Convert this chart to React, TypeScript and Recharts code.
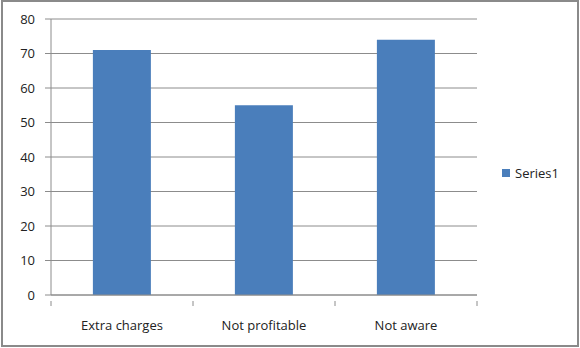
import React from "react";
import { BarChart, Bar, XAxis, YAxis, CartesianGrid, Legend } from "recharts";

const categories = ["Extra charges", "Not profitable", "Not aware"];
const series1 = [71, 55, 74];
const yTicks = [0, 10, 20, 30, 40, 50, 60, 70, 80];

const data = categories.map((name, i) => ({ name, Series1: series1[i] }));

const FONT = "'Open Sans', 'Liberation Sans', sans-serif";
const BLUE = "#4a7ebb";
const GRID = "#8c8c8c";

// category labels plus the tick marks that sit between the bands
const CategoryTick = (props: any) => {
  const { x, y, payload, index } = props;
  const half = payload.offset || 0;
  const axisY = y - 20;
  return (
    <g>
      <line x1={x - half} x2={x - half} y1={axisY} y2={axisY + 5} stroke={GRID} />
      {index === categories.length - 1 && (
        <line x1={x + half} x2={x + half} y1={axisY} y2={axisY + 5} stroke={GRID} />
      )}
      <text x={x} y={y + 9} textAnchor="middle" fontSize={13} fill="#222" fontFamily={FONT}>
        {payload.value}
      </text>
    </g>
  );
};

const LegendContent = () => (
  <div style={{ display: "flex", alignItems: "center", fontFamily: FONT, fontSize: 13, color: "#222" }}>
    <span style={{ display: "inline-block", width: 8, height: 8, background: BLUE, marginRight: 5 }} />
    <span>Series1</span>
  </div>
);

export default function App() {
  return (
    <div style={{ position: "absolute", left: 0, top: 0, width: 580, height: 348, background: "#fff" }}>
      <div
        style={{
          position: "absolute",
          left: 1,
          top: 0,
          width: 578,
          height: 347,
          boxSizing: "border-box",
          border: "2px solid #8a8a8a",
        }}
      />
      <BarChart
        width={580}
        height={348}
        data={data}
        margin={{ top: 19, right: 23, left: 0, bottom: 23 }}
        barCategoryGap="29.5%"
        style={{ position: "absolute", left: 0, top: 0 }}
      >
        <CartesianGrid vertical={false} stroke={GRID} />
        <XAxis
          dataKey="name"
          tickLine={false}
          axisLine={{ stroke: GRID }}
          height={30}
          tickMargin={20}
          interval={0}
          tick={<CategoryTick />}
        />
        <YAxis
          width={51}
          domain={[0, 80]}
          ticks={yTicks}
          interval={0}
          tickSize={6}
          tickMargin={10}
          tickLine={{ stroke: GRID }}
          axisLine={{ stroke: GRID }}
          tick={{ fontSize: 13, fill: "#222", fontFamily: FONT }}
        />
        <Legend
          layout="vertical"
          align="right"
          verticalAlign="middle"
          content={<LegendContent />}
          wrapperStyle={{ width: 80, left: 502, top: 164 }}
        />
        <Bar dataKey="Series1" fill={BLUE} isAnimationActive={false} />
      </BarChart>
    </div>
  );
}
